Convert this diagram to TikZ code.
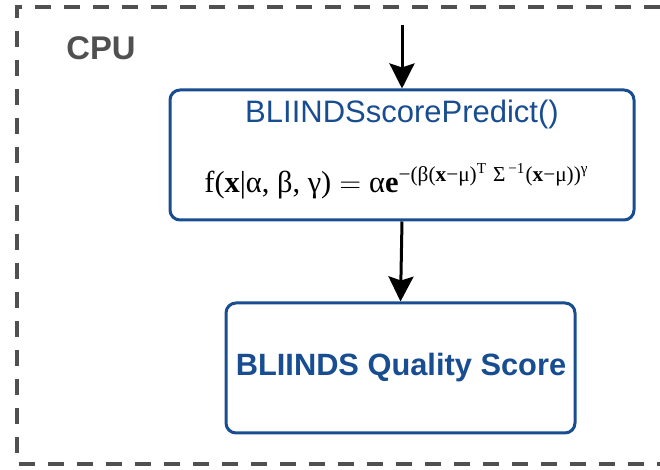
\documentclass[tikz,border=0pt]{standalone}
\usepackage{fontspec}
\usepackage{amsmath}
\usepackage{xcolor}
\usetikzlibrary{arrows.meta}
\setmainfont{Liberation Sans}
\newfontfamily\formulafont{Liberation Serif}

\definecolor{boxblue}{RGB}{24,78,145}
\definecolor{framegray}{RGB}{80,80,80}

\tikzset{
  funcbox/.style={draw=boxblue, line width=1.5pt, rounded corners=5pt, fill=white,
    minimum width=232pt, minimum height=65pt, inner sep=0pt},
  scorebox/.style={draw=boxblue, line width=1.5pt, rounded corners=5pt, fill=white,
    minimum width=174.5pt, minimum height=65pt, inner sep=0pt},
  flow/.style={line width=1.5pt, -{Stealth[length=12.5pt, width=12.5pt, inset=2pt]}}
}

\begin{document}
\begin{tikzpicture}[x=0.5pt,y=0.5pt,yscale=-1,xscale=1]
\useasboundingbox (0,0) rectangle (660,470);

%Dashed frame of the CPU part
\draw [color=framegray, line width=2pt, dash pattern={on 8pt off 6.5pt}]  (660,7) -- (17,7) -- (17,464) -- (660,464) ;
% Text Node
\draw (101,48) node [text=framegray, font=\bfseries\fontsize{16.4}{18}\selectfont] (cpu) {CPU};

%Function box
\draw (402,155) node [funcbox] (predict) {};
% Text Node
\draw (402,114) node [text=boxblue, font=\fontsize{15.5}{17}\selectfont] (predictname) {BLIINDSscorePredict()};
% Text Node
\draw (397,181) node [font=\formulafont\fontsize{15.2}{17}\selectfont] (formula)
  {$\text{\formulafont f(\textbf{x}|α, β, γ)} = \text{\formulafont α\textbf{e}}^{\text{\formulafont −(β(\textbf{x}−μ)}^{\text{\formulafont T}}\;\text{\formulafont Σ}^{\,\text{\formulafont −1}}\text{\formulafont (\textbf{x}−μ))}^{\text{\formulafont γ}}}$};

%Score box
\draw (400.5,368) node [scorebox] (score) {};
% Text Node
\draw (401,368) node [text=boxblue, font=\bfseries\fontsize{15.4}{17}\selectfont] (scorename) {BLIINDS Quality Score};

%Arrows
\coordinate (in) at (402,25);
\draw [flow] (in) -- (predict.north) ;
\draw [flow] (predict.south) -- (score.north) ;
\end{tikzpicture}
\end{document}
